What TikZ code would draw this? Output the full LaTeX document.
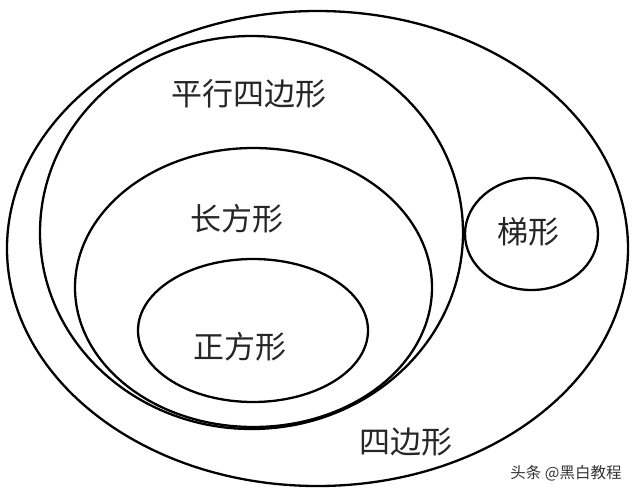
\documentclass[tikz,border=0pt]{standalone}
\usepackage{fontspec}
\newfontfamily\cjk{Noto Sans CJK SC}
\usetikzlibrary{shapes.geometric}
\tikzset{
  setring/.style={draw=black, line width=2.3pt, shape=ellipse, inner sep=0pt, outer sep=0pt, fill=none},
  setlabel/.style={font=\cjk\fontsize{31}{31}\selectfont, text=black!85, inner sep=0pt},
  wmark/.style={font=\cjk\fontsize{15.5}{16}\selectfont, text=black!80, inner sep=0pt}
}
\begin{document}
\begin{tikzpicture}[x=1pt,y=-1pt]
\fill[white] (0,0) rectangle (640,496);
\useasboundingbox (0,0) rectangle (640,496);
% sets
\node[setring, minimum width=621pt, minimum height=475pt] (quad) at (317.5,248.5) {};
\node[setring, minimum width=423pt, minimum height=393pt] (para) at (251.5,232.5) {};
\node[setring, minimum width=357pt, minimum height=279pt] (rect) at (253.5,287.5) {};
\node[setring, minimum width=230pt, minimum height=143pt] (square) at (253,330.5) {};
\node[setring, minimum width=133pt, minimum height=112pt] (trap) at (531.5,234) {};
% labels
\node[setlabel] (lpara) at (249,94) {平行四边形};
\node[setlabel] (lrect) at (237,219) {长方形};
\node[setlabel] (ltrap) at (528,232) {梯形};
\node[setlabel] (lsquare) at (240,347) {正方形};
\node[setlabel] (lquad) at (406,442) {四边形};
\node[wmark] (wm) at (566,473) {头条 @黑白教程};
\end{tikzpicture}
\end{document}
